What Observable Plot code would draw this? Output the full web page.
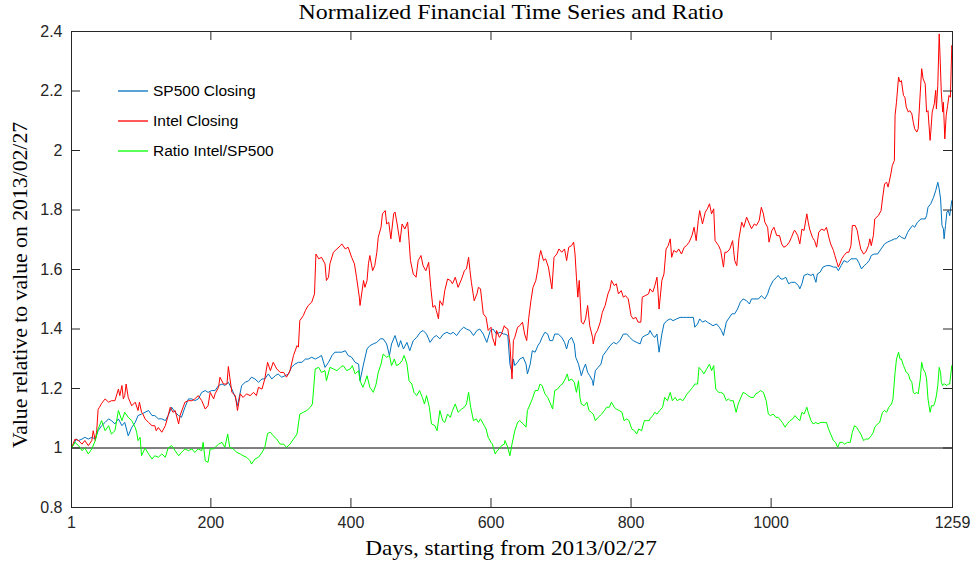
<!DOCTYPE html>
<html>
<head>
<meta charset="utf-8">
<script src="https://cdn.jsdelivr.net/npm/d3@7"></script>
<script src="https://cdn.jsdelivr.net/npm/@observablehq/plot@0.6"></script>
<style>
  html, body { margin: 0; padding: 0; background: #fff; }
  #wrap { position: relative; width: 971px; height: 569px; overflow: hidden; }
  #chart { position: absolute; left: 0; top: 0; }
  .title, .xlabel, .ylabel { position: absolute; font-family: "Liberation Serif", serif; color: #000; white-space: nowrap; font-size: 21.5px; }
  .title { left: 511px; top: 12px; transform: translate(-50%, -50%) scaleX(1.11); }
  .xlabel { left: 511px; top: 548px; transform: translate(-50%, -50%) scaleX(1.08); }
  .ylabel { left: 20px; top: 285px; transform: translate(-50%, -50%) rotate(-90deg) scaleX(1.01); }
  .legend { position: absolute; left: 118px; top: 76px; font-family: "Liberation Sans", Arial, sans-serif; font-size: 15.5px; color: #000; }
  .legend .row { display: flex; align-items: center; height: 30px; }
  .legend svg { display: block; margin-right: 5px; }
</style>
</head>
<body>
<div id="wrap">
  <div id="chart"></div>
  <div class="title">Normalized Financial Time Series and Ratio</div>
  <div class="xlabel">Days, starting from 2013/02/27</div>
  <div class="ylabel">Value relative to value on 2013/02/27</div>
  <div class="legend" id="legend"></div>
</div>
<script>
// ---- Data (day index, value relative to 2013/02/27) ----
const sp500 = [
[1,1.0],[8,1.03],[11,1.025],[16,1.03],[20,1.036],[25,1.03],[30,1.036],[35,1.03],[39,1.058],[44,1.075],[49,1.086],[54,1.098],[58,1.092],[63,1.081],[68,1.098],[73,1.075],[77,1.086],[82,1.041],[87,1.069],[92,1.086],[96,1.109],[101,1.114],[106,1.12],[111,1.126],[116,1.109],[120,1.109],[125,1.098],[130,1.098],[135,1.092],[139,1.109],[144,1.137],[149,1.12],[154,1.109],[158,1.103],[163,1.137],[168,1.165],[173,1.165],[177,1.159],[182,1.165],[187,1.187],[192,1.193],[196,1.187],[201,1.193],
[206,1.193],[211,1.210],[216,1.215],[220,1.210],[225,1.221],[230,1.198],[235,1.170],[238,1.142],[244,1.210],[249,1.221],[254,1.226],[258,1.238],[263,1.232],[268,1.221],[273,1.232],[277,1.232],[282,1.249],[287,1.232],[292,1.243],[296,1.249],[301,1.238],[306,1.243],[311,1.249],[315,1.271],[320,1.282],[325,1.288],[330,1.288],[335,1.299],[339,1.299],[344,1.305],[349,1.299],[354,1.305],[358,1.311],[363,1.271],[368,1.288],[373,1.311],[377,1.322],[382,1.322],[387,1.322],[392,1.327],[396,1.311],[401,1.305],[406,1.288],[411,1.282],
[413,1.226],[418,1.282],[423,1.333],[427,1.344],[432,1.350],[437,1.355],[442,1.367],[446,1.367],[451,1.350],[455,1.311],[458,1.350],[463,1.378],[468,1.339],[471,1.361],[475,1.333],[480,1.355],[484,1.327],[489,1.361],[494,1.372],[499,1.389],[503,1.395],[508,1.383],[513,1.355],[518,1.372],[522,1.378],[527,1.367],[532,1.383],[537,1.389],[542,1.383],[546,1.389],[551,1.378],[556,1.395],[561,1.406],[565,1.400],[570,1.395],[575,1.378],[580,1.395],[584,1.400],[589,1.383],[594,1.355],[599,1.395],[603,1.400],[608,1.383],[613,1.389],[618,1.383],
[620,1.383],[624,1.378],[627,1.282],[630,1.254],[632,1.299],[634,1.277],[638,1.288],[641,1.299],[646,1.305],[650,1.282],[652,1.249],[656,1.282],[659,1.327],[663,1.322],[667,1.344],[670,1.355],[673,1.372],[677,1.389],[681,1.383],[684,1.361],[688,1.361],[691,1.383],[696,1.383],[701,1.372],[705,1.355],[708,1.333],[711,1.361],[715,1.372],[719,1.350],[721,1.305],[725,1.282],[729,1.243],[732,1.266],[735,1.282],[738,1.254],[741,1.243],[745,1.226],[746,1.210],[749,1.260],[753,1.271],[757,1.282],[760,1.311],[765,1.327],[770,1.344],[775,1.355],[779,1.350],[784,1.361],[789,1.383],[794,1.383],[798,1.372],[803,1.361],[808,1.355],[813,1.350],[816,1.372],[820,1.378],[825,1.383],
[827,1.395],[831,1.378],[834,1.372],[837,1.383],[840,1.322],[844,1.383],[847,1.417],[851,1.428],[856,1.434],[860,1.428],[865,1.434],[870,1.439],[875,1.439],[879,1.439],[884,1.439],[889,1.439],[891,1.406],[895,1.417],[898,1.434],[902,1.423],[906,1.428],[909,1.423],[913,1.417],[917,1.411],[922,1.417],[926,1.406],[929,1.395],[932,1.378],[936,1.423],[939,1.434],[944,1.451],[948,1.451],[952,1.467],[956,1.490],[960,1.501],[965,1.495],[969,1.484],[972,1.501],[977,1.501],[982,1.501],[986,1.512],[991,1.501],[995,1.518],[998,1.540],[1003,1.563],[1008,1.574],[1010,1.580],[1014,1.568],[1017,1.568],[1021,1.574],[1025,1.552],[1029,1.557],
[1034,1.557],[1039,1.546],[1041,1.535],[1044,1.552],[1047,1.580],[1052,1.585],[1057,1.580],[1060,1.585],[1064,1.557],[1066,1.585],[1070,1.591],[1074,1.608],[1079,1.613],[1084,1.613],[1089,1.608],[1093,1.608],[1096,1.596],[1100,1.613],[1104,1.630],[1109,1.624],[1114,1.636],[1119,1.636],[1122,1.636],[1125,1.624],[1129,1.602],[1133,1.613],[1136,1.619],[1140,1.630],[1143,1.647],[1147,1.652],[1152,1.652],[1157,1.669],[1162,1.686],[1166,1.692],[1171,1.697],[1176,1.703],[1179,1.703],[1183,1.714],[1186,1.708],[1191,1.703],[1195,1.725],[1198,1.736],[1202,1.748],[1205,1.742],[1209,1.759],[1214,1.770],[1217,1.770],[1220,1.770],[1222,1.781],[1224,1.809],[1228,1.821],[1232,1.843],[1235,1.865],[1238,1.893],[1240,1.871],[1242,1.837],[1243,1.793],[1244,1.748],[1246,1.736],[1247,1.703],[1249,1.748],[1251,1.793],[1253,1.798],[1255,1.781],[1258,1.832],[1259,1.83]
];

const intel = [
[1,1.00],[6,1.03],[11,1.025],[16,1.013],[20,1.025],[25,1.008],[30,1.025],[32,1.058],[35,1.025],[37,1.058],[39,1.13],[41,1.137],[44,1.15],[49,1.165],[54,1.154],[58,1.159],[63,1.159],[68,1.198],[70,1.176],[73,1.21],[75,1.165],[77,1.176],[79,1.215],[82,1.17],[87,1.142],[92,1.154],[96,1.126],[98,1.154],[101,1.12],[103,1.114],[106,1.098],[111,1.086],[116,1.075],[120,1.075],[122,1.058],[125,1.069],[130,1.053],[135,1.075],[139,1.109],[142,1.137],[146,1.12],[149,1.126],[154,1.081],[156,1.109],[163,1.154],[168,1.159],[173,1.159],[177,1.165],[182,1.176],[187,1.159],[192,1.131],[196,1.142],[199,1.187],[204,1.165],
[206,1.182],[211,1.204],[213,1.238],[218,1.215],[223,1.215],[225,1.274],[227,1.238],[230,1.187],[235,1.176],[238,1.126],[242,1.182],[246,1.170],[251,1.182],[256,1.176],[261,1.187],[265,1.176],[268,1.204],[273,1.198],[277,1.232],[281,1.288],[285,1.260],[289,1.288],[294,1.266],[299,1.254],[304,1.254],[308,1.238],[313,1.260],[318,1.311],[323,1.344],[325,1.339],[327,1.428],[332,1.445],[335,1.462],[339,1.479],[344,1.490],[348,1.518],[350,1.652],[354,1.636],[358,1.641],[363,1.619],[365,1.563],[368,1.574],[370,1.619],[375,1.658],[380,1.669],[385,1.680],[387,1.686],[392,1.669],[396,1.675],[401,1.641],[405,1.619],[408,1.574],[412,1.507],
[413,1.479],[418,1.563],[420,1.540],[423,1.563],[425,1.619],[427,1.647],[431,1.596],[434,1.613],[437,1.658],[439,1.708],[443,1.742],[445,1.787],[449,1.798],[451,1.753],[454,1.759],[457,1.703],[461,1.787],[463,1.793],[466,1.753],[470,1.692],[473,1.753],[477,1.736],[481,1.759],[483,1.697],[485,1.630],[489,1.585],[493,1.574],[496,1.630],[500,1.647],[503,1.613],[507,1.596],[511,1.624],[514,1.540],[517,1.473],[520,1.479],[522,1.462],[525,1.434],[527,1.495],[531,1.479],[534,1.529],[538,1.568],[542,1.563],[545,1.552],[549,1.574],[553,1.540],[558,1.568],[562,1.596],[565,1.602],[568,1.641],[570,1.596],[572,1.557],[576,1.495],[580,1.518],[582,1.540],[585,1.535],[589,1.451],[593,1.439],[596,1.395],[600,1.406],[602,1.372],[606,1.344],[608,1.395],[612,1.372],[615,1.383],[619,1.411],
[620,1.406],[624,1.400],[627,1.350],[630,1.232],[632,1.361],[634,1.372],[638,1.406],[641,1.411],[645,1.423],[648,1.383],[651,1.361],[654,1.439],[657,1.495],[660,1.540],[664,1.563],[667,1.602],[669,1.641],[671,1.664],[675,1.630],[678,1.636],[682,1.608],[687,1.535],[690,1.641],[694,1.652],[697,1.669],[701,1.658],[705,1.669],[708,1.630],[711,1.675],[715,1.680],[718,1.692],[720,1.652],[722,1.574],[724,1.507],[726,1.563],[729,1.423],[732,1.417],[735,1.434],[738,1.479],[741,1.411],[745,1.372],[746,1.350],[749,1.383],[752,1.395],[756,1.423],[759,1.456],[763,1.479],[767,1.518],[770,1.535],[772,1.563],[776,1.546],[779,1.552],[782,1.518],[786,1.529],[789,1.507],[792,1.512],[796,1.501],[800,1.445],[803,1.434],[807,1.439],[810,1.423],[814,1.423],[816,1.507],[820,1.512],[825,1.518],
[827,1.535],[831,1.524],[834,1.546],[837,1.574],[839,1.507],[840,1.467],[844,1.563],[847,1.585],[850,1.669],[853,1.680],[856,1.703],[858,1.641],[861,1.664],[865,1.658],[868,1.669],[872,1.652],[876,1.675],[879,1.680],[883,1.692],[887,1.714],[890,1.742],[893,1.697],[896,1.765],[898,1.798],[902,1.753],[906,1.793],[909,1.804],[912,1.821],[915,1.787],[918,1.804],[920,1.697],[925,1.680],[928,1.664],[932,1.608],[934,1.658],[937,1.658],[941,1.669],[945,1.697],[948,1.630],[951,1.613],[954,1.703],[958,1.759],[961,1.742],[965,1.776],[969,1.753],[972,1.737],[976,1.753],[979,1.748],[983,1.765],[986,1.809],[989,1.787],[991,1.759],[995,1.742],[997,1.692],[1001,1.731],[1004,1.742],[1008,1.714],[1012,1.714],[1015,1.686],[1018,1.675],[1022,1.680],[1026,1.692],[1029,1.708],[1033,1.731],
[1034,1.731],[1038,1.714],[1041,1.686],[1044,1.736],[1047,1.731],[1051,1.787],[1053,1.759],[1055,1.736],[1059,1.708],[1062,1.697],[1065,1.675],[1068,1.725],[1072,1.736],[1076,1.731],[1079,1.742],[1083,1.703],[1085,1.686],[1089,1.664],[1091,1.647],[1094,1.624],[1096,1.608],[1098,1.619],[1101,1.636],[1104,1.647],[1108,1.658],[1111,1.658],[1114,1.680],[1116,1.748],[1120,1.748],[1123,1.731],[1125,1.703],[1128,1.669],[1132,1.652],[1135,1.658],[1139,1.680],[1141,1.703],[1143,1.680],[1146,1.714],[1148,1.770],[1153,1.781],[1157,1.798],[1159,1.837],[1162,1.888],[1165,1.893],[1167,1.877],[1171,1.921],[1173,1.949],[1176,1.966],[1177,2.118],[1179,2.162],[1182,2.247],[1184,2.230],[1186,2.235],[1189,2.185],[1191,2.179],[1193,2.146],[1196,2.129],[1198,2.134],[1201,2.123],[1203,2.095],[1205,2.073],[1208,2.062],[1210,2.073],[1213,2.196],[1215,2.275],[1217,2.241],[1220,2.224],[1222,2.129],[1224,2.134],[1227,2.034],[1228,2.062],[1230,2.129],[1233,2.157],[1235,2.202],[1236,2.140],[1238,2.219],[1240,2.392],[1241,2.331],[1243,2.196],[1245,2.129],[1246,2.162],[1248,2.039],[1250,2.118],[1252,2.151],[1254,2.185],[1256,2.179],[1258,2.353],[1259,2.34]
];

const ratio = [
[1,1.0],[6,1.019],[11,1.008],[16,0.991],[20,1.0],[25,0.98],[30,0.997],[35,1.025],[39,1.064],[44,1.092],[49,1.058],[54,1.075],[58,1.047],[63,1.058],[68,1.126],[73,1.092],[77,1.12],[82,1.103],[87,1.092],[92,1.069],[94,1.053],[96,1.025],[99,1.036],[101,0.974],[106,1.0],[111,0.98],[116,0.963],[120,0.974],[125,0.969],[130,0.98],[135,0.969],[139,1.0],[144,1.008],[149,0.991],[154,0.974],[158,0.985],[163,0.997],[168,0.991],[173,0.997],[177,0.985],[182,0.997],[187,0.991],[189,1.019],[192,0.957],[196,0.952],[199,0.997],[204,0.997],
[206,1.002],[211,1.013],[216,1.019],[220,1.002],[224,1.047],[227,1.002],[232,0.997],[237,0.985],[242,0.980],[246,0.974],[251,0.969],[256,0.957],[258,0.946],[263,0.963],[268,0.969],[273,0.985],[277,1.002],[281,1.049],[285,1.053],[289,1.041],[294,1.030],[299,1.013],[304,1.013],[308,1.002],[313,1.013],[318,1.030],[323,1.047],[327,1.114],[332,1.120],[337,1.126],[342,1.137],[345,1.148],[349,1.266],[354,1.271],[358,1.254],[363,1.260],[365,1.226],[370,1.271],[375,1.266],[380,1.260],[385,1.271],[389,1.277],[394,1.260],[399,1.266],[402,1.277],[406,1.249],[411,1.260],
[413,1.226],[417,1.204],[420,1.221],[423,1.243],[427,1.204],[432,1.187],[436,1.215],[439,1.254],[443,1.282],[446,1.316],[451,1.305],[455,1.311],[458,1.277],[462,1.299],[465,1.277],[469,1.282],[473,1.294],[476,1.311],[480,1.282],[483,1.226],[487,1.215],[490,1.187],[494,1.176],[498,1.193],[502,1.170],[505,1.148],[508,1.176],[512,1.137],[515,1.081],[520,1.075],[523,1.058],[527,1.126],[531,1.092],[534,1.086],[538,1.114],[542,1.103],[545,1.126],[549,1.148],[553,1.120],[558,1.131],[562,1.137],[565,1.148],[568,1.187],[571,1.137],[575,1.092],[579,1.098],[582,1.086],[585,1.098],[589,1.081],[593,1.064],[596,1.036],[600,1.019],[602,1.013],[606,0.980],[609,0.991],[612,0.997],[615,1.008],[619,1.013],
[620,1.025],[624,1.002],[627,0.974],[630,1.013],[634,1.058],[638,1.086],[641,1.092],[646,1.081],[650,1.070],[652,1.126],[656,1.148],[659,1.165],[663,1.193],[667,1.193],[670,1.215],[673,1.210],[677,1.182],[681,1.170],[684,1.154],[688,1.131],[691,1.193],[695,1.198],[699,1.210],[702,1.215],[706,1.232],[709,1.249],[711,1.226],[715,1.232],[719,1.221],[722,1.187],[725,1.226],[727,1.170],[729,1.148],[733,1.142],[737,1.154],[740,1.126],[743,1.120],[746,1.114],[749,1.092],[753,1.103],[758,1.114],[762,1.126],[765,1.137],[769,1.137],[772,1.154],[776,1.137],[779,1.131],[783,1.126],[787,1.120],[790,1.092],[794,1.098],[797,1.092],[801,1.064],[805,1.058],[808,1.047],[811,1.064],[815,1.058],[819,1.092],[822,1.092],[826,1.092],
[827,1.098],[831,1.109],[834,1.120],[837,1.114],[841,1.126],[845,1.137],[848,1.170],[852,1.159],[856,1.187],[859,1.159],[863,1.170],[866,1.159],[870,1.165],[874,1.159],[877,1.170],[880,1.182],[884,1.193],[888,1.204],[891,1.215],[895,1.215],[897,1.271],[901,1.260],[904,1.249],[908,1.266],[912,1.282],[915,1.260],[918,1.277],[921,1.198],[925,1.187],[928,1.187],[932,1.182],[936,1.159],[939,1.165],[942,1.159],[946,1.159],[950,1.120],[953,1.148],[956,1.165],[960,1.187],[964,1.182],[967,1.176],[971,1.170],[975,1.170],[978,1.182],[982,1.187],[985,1.193],[989,1.187],[993,1.159],[996,1.114],[999,1.109],[1003,1.114],[1007,1.103],[1010,1.103],[1014,1.092],[1016,1.086],[1020,1.070],[1023,1.081],[1027,1.092],[1031,1.098],
[1034,1.109],[1038,1.098],[1041,1.092],[1044,1.120],[1047,1.114],[1051,1.137],[1053,1.120],[1057,1.092],[1060,1.081],[1064,1.086],[1067,1.081],[1071,1.086],[1076,1.086],[1079,1.086],[1082,1.064],[1085,1.047],[1089,1.025],[1092,1.019],[1095,1.002],[1098,1.019],[1102,1.019],[1105,1.013],[1109,1.019],[1113,1.019],[1116,1.053],[1119,1.075],[1122,1.070],[1125,1.058],[1128,1.047],[1132,1.025],[1135,1.030],[1139,1.030],[1143,1.041],[1146,1.053],[1148,1.070],[1152,1.081],[1155,1.086],[1159,1.120],[1162,1.126],[1165,1.120],[1168,1.137],[1172,1.148],[1174,1.165],[1177,1.254],[1179,1.299],[1182,1.322],[1184,1.299],[1186,1.299],[1189,1.277],[1191,1.266],[1193,1.254],[1196,1.249],[1198,1.232],[1201,1.221],[1203,1.187],[1205,1.182],[1208,1.187],[1210,1.182],[1213,1.232],[1215,1.288],[1217,1.266],[1220,1.254],[1222,1.232],[1224,1.165],[1227,1.120],[1229,1.142],[1232,1.142],[1234,1.154],[1236,1.176],[1238,1.210],[1240,1.271],[1242,1.254],[1243,1.221],[1245,1.210],[1246,1.215],[1248,1.215],[1251,1.210],[1253,1.215],[1255,1.215],[1258,1.277],[1259,1.27]
];

const xTicks = [1, 200, 400, 600, 800, 1000, 1259];
const yTicks = [0.8, 1, 1.2, 1.4, 1.6, 1.8, 2, 2.2, 2.4];
const seriesNames = ["SP500 Closing", "Intel Closing", "Ratio Intel/SP500"];
const seriesColors = ["#0072BD", "#FF0000", "#00FF00"];

// ---- Layout ----
const W = 971, H = 569;
const mT = 31, mB = 62, mL = 71, mR = 19;
const innerW = W - mL - mR, innerH = H - mT - mB;
const tickLen = 9;
const fmt = d => String(+d.toFixed(1));

const chart = Plot.plot({
  width: W,
  height: H,
  marginTop: mT, marginBottom: mB, marginLeft: mL, marginRight: mR,
  style: { fontFamily: "'Liberation Sans', Arial, sans-serif", fontSize: "16px", color: "#262626", background: "white" },
  x: { domain: [1, 1259] },
  y: { domain: [0.8, 2.4] },
  marks: [
    Plot.ruleY([1], { stroke: "#000", strokeWidth: 1 }),
    Plot.line(sp500, { x: d => d[0], y: d => d[1], stroke: seriesColors[0], strokeWidth: 1, clip: true }),
    Plot.line(intel, { x: d => d[0], y: d => d[1], stroke: seriesColors[1], strokeWidth: 1, clip: true }),
    Plot.line(ratio, { x: d => d[0], y: d => d[1], stroke: seriesColors[2], strokeWidth: 1, clip: true }),
    // inward ticks on all four sides (MATLAB box style)
    Plot.ruleX(xTicks, { x: d => d, insetTop: innerH - tickLen, stroke: "#262626" }),
    Plot.ruleX(xTicks, { x: d => d, insetBottom: innerH - tickLen, stroke: "#262626" }),
    Plot.ruleY(yTicks, { y: d => d, insetRight: innerW - tickLen, stroke: "#262626" }),
    Plot.ruleY(yTicks, { y: d => d, insetLeft: innerW - tickLen, stroke: "#262626" }),
    Plot.frame({ stroke: "#262626", strokeWidth: 1 }),
    Plot.axisX(xTicks, { tickSize: 0, tickPadding: 9, tickFormat: d => String(d), label: null, fill: "#262626" }),
    Plot.axisY(yTicks, { tickSize: 0, tickPadding: 9, tickFormat: fmt, label: null, fill: "#262626" })
  ]
});
document.getElementById("chart").appendChild(chart);

// legend (line swatch + name per series)
const legend = document.getElementById("legend");
const NS = "http://www.w3.org/2000/svg";
seriesNames.forEach((name, i) => {
  const row = document.createElement("div");
  row.className = "row";
  const svg = document.createElementNS(NS, "svg");
  svg.setAttribute("width", "30");
  svg.setAttribute("height", "4");
  const ln = document.createElementNS(NS, "line");
  ln.setAttribute("x1", "0"); ln.setAttribute("x2", "30");
  ln.setAttribute("y1", "2"); ln.setAttribute("y2", "2");
  ln.setAttribute("stroke", seriesColors[i]);
  ln.setAttribute("stroke-width", "1.3");
  svg.appendChild(ln);
  const t = document.createElement("span");
  t.textContent = name;
  row.appendChild(svg); row.appendChild(t);
  legend.appendChild(row);
});
</script>
</body>
</html>
